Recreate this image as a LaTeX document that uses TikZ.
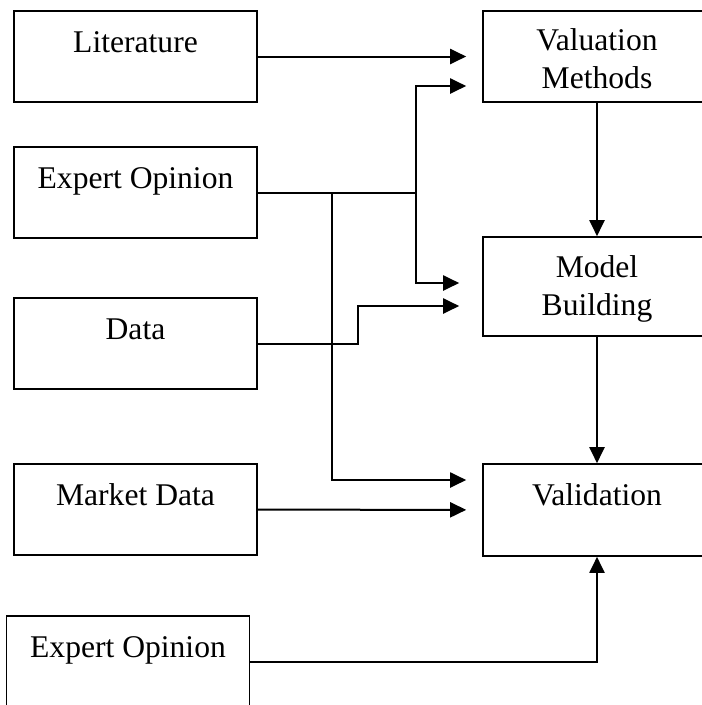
\documentclass[tikz,border=0pt]{standalone}
\usepackage{fontspec}
\setmainfont{Liberation Serif}
\usetikzlibrary{arrows.meta}

\begin{document}
\begin{tikzpicture}[x=1pt, y=-1pt,
	box/.style={draw, line width=1.6pt, inner sep=0pt, text height=41pt, text depth=50pt,
		align=center, font=\fontsize{31.6}{37.5}\selectfont},
	src/.style={box, minimum width=243pt},
	stage/.style={box, minimum width=228pt},
	flow/.style={line width=2pt, -{Triangle[length=16pt,width=15pt]}}]
	\useasboundingbox (0,0) rectangle (702,705);

	% inputs on the left
	\node[src] (lit) at (135.5,56.5) {Literature};
	\node[src] (exp) at (135.5,192.5) {Expert Opinion};
	\node[src] (data) at (135.5,343.5) {Data};
	\node[src] (mkt) at (135.5,509.5) {Market Data};
	\node[src] (exptwo) at (128,661.5) {Expert Opinion};

	% stages on the right
	\node[stage, text height=77pt, text depth=14pt] (val) at (597,56.5) {Valuation\\Methods};
	\node[stage, text height=78pt, text depth=21pt] (model) at (597,286.5) {Model\\Building};
	\node[stage, text depth=51pt] (check) at (597,510) {Validation};

	\coordinate (fork) at (416,192.5);
	\coordinate (drop) at (332,192.5);

	\draw[flow, shorten >=16pt] (lit) -- (val);
	\draw[line width=2pt] (exp.east) -- (fork);
	\draw[flow, shorten >=16pt] (fork) |- (val.west |- 0,86);
	\draw[flow, shorten >=23pt] (fork) |- (model.west |- 0,283);
	\draw[flow, shorten >=16pt] (drop) |- (check.west |- 0,480);
	\draw[flow, shorten >=23pt] (data.east) -| (358,306) -- (model.west |- 0,306);
	\draw[flow, shorten >=16pt] (mkt) -- (check);
	\draw[flow] (exptwo.east) -| (check.south);
	\draw[flow] (val) -- (model);
	\draw[flow] (model) -- (check);
\end{tikzpicture}
\end{document}
